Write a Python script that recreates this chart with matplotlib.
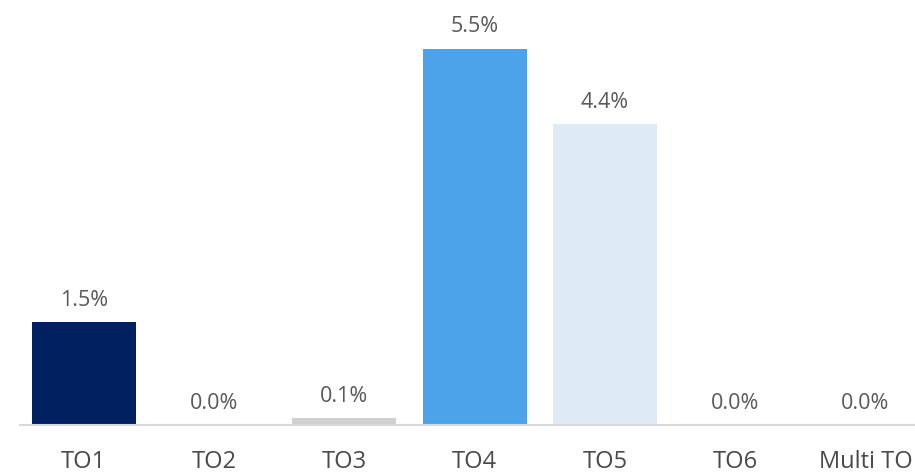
import matplotlib
matplotlib.use("Agg")
import matplotlib.pyplot as plt

categories = ["TO1", "TO2", "TO3", "TO4", "TO5", "TO6", "Multi TO"]
values = [1.5, 0.0, 0.1, 5.5, 4.4, 0.0, 0.0]
bar_colors = ["#002060", "#BFBFBF", "#D0D0D0", "#4DA3EA", "#DEEAF6", "#BFBFBF", "#BFBFBF"]

plt.rcParams["font.family"] = ["Open Sans", "DejaVu Sans"]

fig = plt.figure(figsize=(9.15, 4.76), dpi=100)
ax = fig.add_axes([20 / 915, 51 / 476, 895 / 915, 425 / 476])

x = range(len(categories))
bars = ax.bar(x, values, width=0.8, color=bar_colors)
ax.bar_label(bars, labels=[f"{v:.1f}%" for v in values], padding=8,
             fontsize=15.5, color="#595959")

ax.set_xlim(-0.49, 6.38)
ax.set_ylim(0, 6.21)
ax.set_xticks(list(x))
ax.set_xticklabels(categories, fontsize=17, color="#4A4A4A")
ax.tick_params(axis="x", length=0, pad=18)
ax.set_yticks([])
for side in ["top", "right", "left"]:
    ax.spines[side].set_visible(False)
ax.spines["bottom"].set_color("#D9D9D9")
ax.spines["bottom"].set_linewidth(1.5)

fig.savefig("out.png", dpi=100)
plt.close(fig)
